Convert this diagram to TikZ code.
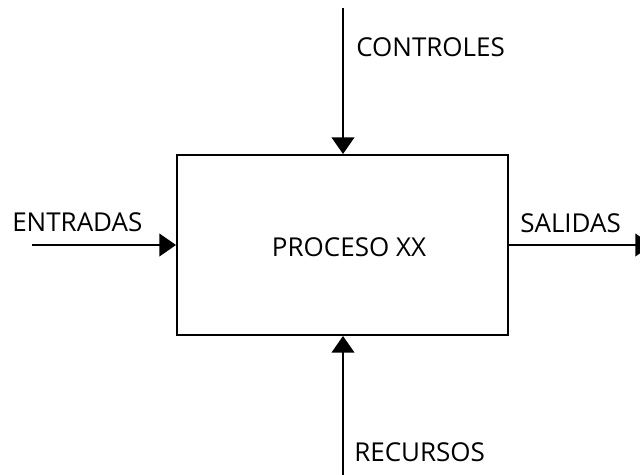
\documentclass[tikz,border=0pt]{standalone}
\usepackage{fontspec}
\setmainfont{Open Sans}
\usetikzlibrary{arrows.meta}
\begin{document}
\begin{tikzpicture}[x=0.75pt,y=-0.75pt,
  flow/.style={line width=1.5pt,-{Triangle[length=12.5pt,width=17pt]}},
  txt/.style={inner sep=0pt,font=\fontsize{19.5}{22}\selectfont},
  lbl/.style={txt,anchor=west},
  procbox/.style={draw,line width=1.5pt,minimum width=248.25pt,minimum height=135pt,inner sep=0pt}]
\useasboundingbox (0,0) rectangle (640,475);
\clip (0,0) rectangle (640,475);
% process box
\node[procbox] (proc) at (342.5,245) {};
\node[txt] (title) at (349,247) {PROCESO XX};
% free ends of the four connectors
\coordinate (inS) at (32,245);
\coordinate (ctlS) at (343,8);
\coordinate (resS) at (343,480);
\coordinate (outE) at (652,245);
% connectors
\draw[flow] (inS) -- (inS -| proc.west);
\draw[flow] (ctlS) -- (ctlS |- proc.north);
\draw[flow] (resS) -- (resS |- proc.south);
\draw[flow] (proc.east) -- (outE);
% labels
\node[lbl] (lin) at (12,222) {ENTRADAS};
\node[lbl] (lout) at (520,223) {SALIDAS};
\node[lbl] (lctl) at (356,47) {CONTROLES};
\node[lbl] (lres) at (354,452) {RECURSOS};
\end{tikzpicture}
\end{document}
